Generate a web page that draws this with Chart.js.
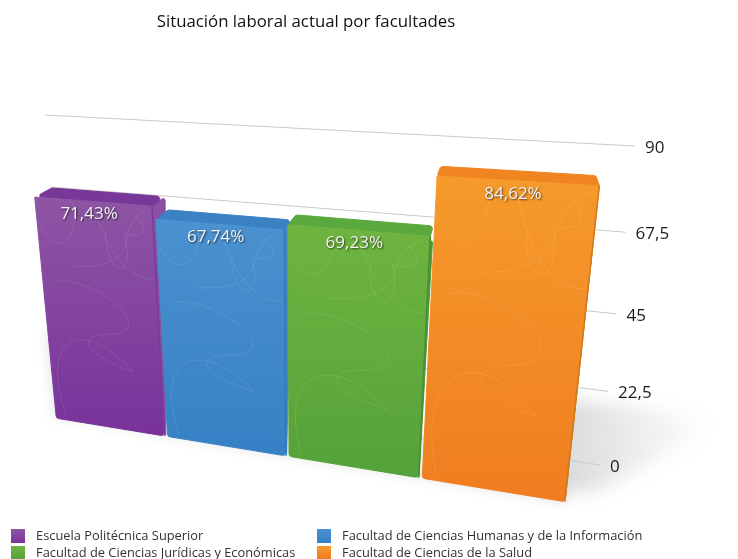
<!DOCTYPE html>
<html>
<head>
<meta charset="utf-8">
<script src="https://cdn.jsdelivr.net/npm/chart.js@4/dist/chart.umd.min.js"></script>
<style>
html, body { margin: 0; padding: 0; background: #fff; }
#wrap { width: 738px; height: 559px; }
</style>
</head>
<body>
<div id="wrap"><canvas id="myChart" width="738" height="559"></canvas></div>
<script>
const categories = [
    "Escuela Politécnica Superior",
    "Facultad de Ciencias Humanas y de la Información",
    "Facultad de Ciencias Jurídicas y Económicas",
    "Facultad de Ciencias de la Salud",
];
const values = [71.43, 67.74, 69.23, 84.62];
const tickValues = [0, 22.5, 45, 67.5, 90];
const tickLabels = ["0", "22,5", "45", "67,5", "90"];
const titleText = "Situación laboral actual por facultades";

// front, top, side colours per bar
const faceColors = [
    { hi: "#8e55a4", lo: "#78329a", top: "#78389a", side: "#8a4fa2", edge: "#7a3a98" },
    { hi: "#4b91cf", lo: "#3680c5", top: "#3b82c5", side: "#4288c9", edge: "#3576b8" },
    { hi: "#6fb43f", lo: "#55a23a", top: "#5aa83e", side: "#4f9636", edge: "#4a8e34" },
    { hi: "#f59a2b", lo: "#f07d20", top: "#ef8420", side: "#d9801f", edge: "#cf7a1e" },
];

// square-to-quad projection, used to put the flat chart into the tilted view
function makeProjection(bl, br, tr, tl) {
    const dx1 = br[0] - tr[0], dx2 = tl[0] - tr[0], sx = bl[0] - br[0] + tr[0] - tl[0];
    const dy1 = br[1] - tr[1], dy2 = tl[1] - tr[1], sy = bl[1] - br[1] + tr[1] - tl[1];
    const den = dx1 * dy2 - dx2 * dy1;
    const g = (sx * dy2 - dx2 * sy) / den;
    const h = (dx1 * sy - sx * dy1) / den;
    const a = br[0] - bl[0] + g * br[0], b = tl[0] - bl[0] + h * tl[0], c = bl[0];
    const d = br[1] - bl[1] + g * br[1], e = tl[1] - bl[1] + h * tl[1], f = bl[1];
    return (u, v) => {
        const w = g * u + h * v + 1;
        return [(a * u + b * v + c) / w, (d * u + e * v + f) / w];
    };
}

const front = makeProjection([55, 418], [567, 502], [604, 163], [27, 133]);
const wall = makeProjection([65, 385], [600, 465], [635, 146], [45, 115]);
const depthPoint = [520, -60];

function back(u, v) {
    const p = front(u, v);
    const k = 0.003 + 0.041 * v;
    return [p[0] + k * (depthPoint[0] - p[0]), p[1] + k * (depthPoint[1] - p[1])];
}

// closed path, radii gives the corner rounding of each point
function poly(ctx, pts, radii) {
    ctx.beginPath();
    const n = pts.length;
    ctx.moveTo((pts[0][0] + pts[n - 1][0]) / 2, (pts[0][1] + pts[n - 1][1]) / 2);
    pts.forEach((p, i) => {
        const next = pts[(i + 1) % n];
        ctx.arcTo(p[0], p[1], next[0], next[1], radii ? radii[i] : 0);
    });
    ctx.closePath();
}

// faint scribble texture, in face coordinates
const scribbles = [
    [[0.02, 0.12], [0.25, 0.32], [0.42, 0.02], [0.3, 0.0]],
    [[0.1, 0.98], [-0.1, 0.6], [0.35, 0.5], [0.75, 0.72]],
    [[0.75, 0.72], [0.35, 0.68], [0.2, 0.58], [0.62, 0.56]],
    [[0.62, 0.56], [1.0, 0.5], [0.4, 0.3], [0.1, 0.36]],
    [[0.98, 0.3], [0.7, 0.32], [0.55, 0.12], [0.5, 0.0]],
    [[0.3, 0.28], [0.95, 0.26], [0.65, 0.08], [0.95, 0.02]],
    [[0.6, 0.12], [0.55, 0.3], [0.85, 0.34], [0.75, 0.12]],
    [[0.75, 0.12], [0.9, 0.14], [0.98, 0.1], [0.85, 0.04]],
];

const tiltedBars = {
    id: "tiltedBars",
    beforeDatasetsDraw(chart) {
        const { ctx, chartArea: area, scales } = chart;
        const toU = px => (px - area.left) / (area.right - area.left);
        const toV = py => (area.bottom - py) / (area.bottom - area.top);

        // soft shadows on the floor
        ctx.save();
        ctx.filter = "blur(9px)";
        const sh = ctx.createLinearGradient(565, 0, 710, 0);
        sh.addColorStop(0, "rgba(170,175,180,0.45)");
        sh.addColorStop(1, "rgba(170,175,180,0)");
        ctx.fillStyle = sh;
        poly(ctx, [[560, 398], [730, 420], [600, 490], [555, 495]]);
        ctx.fill();
        ctx.filter = "blur(5px)";
        ctx.fillStyle = "rgba(170,175,180,0.25)";
        poly(ctx, [[44, 330], [52, 418], [566, 504], [570, 470]]);
        ctx.fill();
        ctx.restore();

        // grid lines and tick labels on the back wall
        ctx.save();
        ctx.textBaseline = "middle";
        ctx.font = "17px 'Open Sans'";
        scales.y.ticks.forEach(t => {
            const v = toV(scales.y.getPixelForValue(t.value));
            const a = wall(0, v), b = wall(1, v);
            ctx.strokeStyle = "#c9c9c9";
            ctx.lineWidth = 1;
            ctx.beginPath();
            ctx.moveTo(a[0], a[1]);
            ctx.lineTo(b[0], b[1]);
            ctx.stroke();
            ctx.fillStyle = "#1c1c1c";
            ctx.fillText(t.label, b[0] + 10, b[1] + 2);
        });
        ctx.restore();

        // bars, left to right so each one covers the side of the previous
        const bars = chart.getDatasetMeta(0).data;
        bars.forEach((bar, i) => {
            const col = faceColors[i];
            const u0 = toU(bar.x - bar.width / 2), u1 = toU(bar.x + bar.width / 2);
            const v1 = toV(bar.y), v0 = toV(bar.base);
            const fl0 = front(u0, v0), fr0 = front(u1, v0), fr1 = front(u1, v1), fl1 = front(u0, v1);
            const bl1 = back(u0, v1), br1 = back(u1, v1), br0 = back(u1, v0);

            ctx.save();
            ctx.lineJoin = "round";
            ctx.lineWidth = 1;

            ctx.fillStyle = ctx.strokeStyle = col.side;
            poly(ctx, [fr0, fr1, br1, br0], [0, 0, 2, 2]);
            ctx.fill();
            ctx.stroke();

            ctx.fillStyle = ctx.strokeStyle = col.top;
            poly(ctx, [fl1, fr1, br1, bl1], [2, 0, 3, 4]);
            ctx.fill();
            ctx.stroke();

            const grad = ctx.createLinearGradient(0, Math.min(fl1[1], fr1[1]), 0, Math.max(fl0[1], fr0[1]));
            grad.addColorStop(0, col.hi);
            grad.addColorStop(1, col.lo);
            ctx.fillStyle = ctx.strokeStyle = grad;
            poly(ctx, [fl0, fr0, fr1, fl1], [3, 3, 0, 0]);
            ctx.fill();
            ctx.stroke();

            // thin dark right edge
            ctx.strokeStyle = col.edge;
            ctx.lineWidth = 1.5;
            ctx.beginPath();
            ctx.moveTo(fr0[0], fr0[1] - 3);
            ctx.lineTo(fr1[0], fr1[1]);
            ctx.stroke();

            // texture
            ctx.save();
            poly(ctx, [fl0, fr0, fr1, fl1], [3, 3, 0, 0]);
            ctx.clip();
            ctx.strokeStyle = "rgba(255,255,255,0.1)";
            ctx.lineWidth = 1;
            const face = (p) => front(u0 + p[0] * (u1 - u0), v0 + (1 - p[1]) * (v1 - v0));
            scribbles.forEach(c => {
                const p = c.map(face);
                ctx.beginPath();
                ctx.moveTo(p[0][0], p[0][1]);
                ctx.bezierCurveTo(p[1][0], p[1][1], p[2][0], p[2][1], p[3][0], p[3][1]);
                ctx.stroke();
            });
            ctx.restore();

            // value label
            const mid = front((u0 + u1) / 2, v1);
            ctx.font = "17px 'Open Sans'";
            ctx.textAlign = "center";
            ctx.textBaseline = "middle";
            ctx.fillStyle = "#f4f4f4";
            ctx.shadowColor = "rgba(0,0,0,0.65)";
            ctx.shadowBlur = 2;
            ctx.shadowOffsetX = 1;
            ctx.shadowOffsetY = 1;
            ctx.fillText(values[i].toFixed(2).replace(".", ",") + "%", mid[0] - 3, mid[1] + 13);
            ctx.restore();
        });
        return false;
    },
    afterDraw(chart) {
        // two column legend at the bottom
        const ctx = chart.ctx;
        ctx.save();
        ctx.font = "12.85px 'Open Sans'";
        ctx.textBaseline = "middle";
        categories.forEach((name, i) => {
            const col = i % 2 ? 317 : 11;
            const row = i < 2 ? 529 : 546;
            const g = ctx.createLinearGradient(0, row, 0, row + 14);
            g.addColorStop(0, faceColors[i].hi);
            g.addColorStop(1, faceColors[i].lo);
            ctx.fillStyle = g;
            ctx.fillRect(col, row, 14, 14);
            ctx.fillStyle = "#333";
            ctx.fillText(name, col + 25, row + 7);
        });
        ctx.restore();
    },
};

const chart = new Chart(document.getElementById("myChart"), {
    type: "bar",
    data: {
        labels: categories,
        datasets: [
            {
                label: titleText,
                data: values,
                backgroundColor: faceColors.map(c => c.hi),
                categoryPercentage: 1,
                barPercentage: 0.975,
            },
        ],
    },
    options: {
        responsive: false,
        animation: false,
        layout: { padding: { right: 126 } },
        plugins: {
            legend: { display: false },
            tooltip: { enabled: false },
            title: {
                display: true,
                text: titleText,
                color: "#111",
                font: { family: "'Open Sans'", size: 16.8, weight: "normal" },
                padding: { top: 12, bottom: 10 },
            },
        },
        scales: {
            x: { display: false },
            y: {
                display: false,
                min: 0,
                max: 90,
                afterBuildTicks: axis => {
                    axis.ticks = tickValues.map(v => ({ value: v }));
                },
                ticks: {
                    callback: v => tickLabels[tickValues.indexOf(v)],
                },
            },
        },
    },
    plugins: [tiltedBars],
});
</script>
</body>
</html>
